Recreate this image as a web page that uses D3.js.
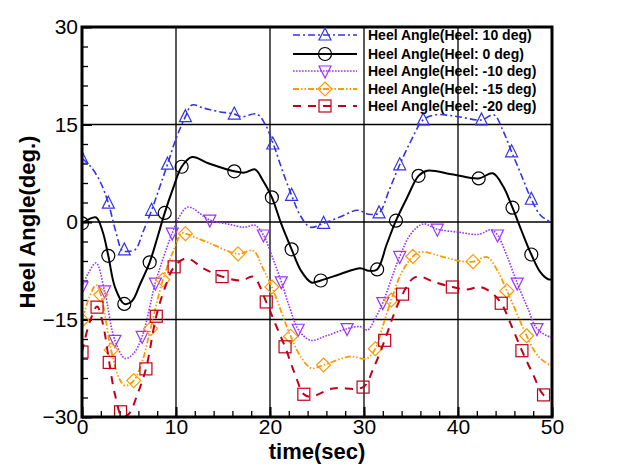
<!DOCTYPE html>
<html>
<head>
<meta charset="utf-8">
<script src="https://d3js.org/d3.v7.min.js"></script>
<style>
  html, body { margin: 0; padding: 0; background: #fff; }
  svg { display: block; }
</style>
</head>
<body>
<div id="chart"></div>
<script>
// ---- Data ----
const xTicks = [0, 10, 20, 30, 40, 50];
const yTicks = [-30, -15, 0, 15, 30];
const seriesNames = [
  "Heel Angle(Heel: 10 deg)",
  "Heel Angle(Heel: 0 deg)",
  "Heel Angle(Heel: -10 deg)",
  "Heel Angle(Heel: -15 deg)",
  "Heel Angle(Heel: -20 deg)"
];

// Heel 10 deg
const h10T = [0, 1, 2, 2.8, 3.6, 4.3, 5.0, 5.7, 6.5, 7.4, 8.3, 9.1, 10.0, 11.0, 11.7, 13, 14.5, 16.2, 17.0, 18.6, 19.5, 20.4, 21.3, 22.3, 23.3, 24.3, 25.7, 27.5, 29.3, 30.5, 31.6, 32.7, 33.8, 35, 36.3, 37.7, 40, 42.5, 43.8, 44.8, 45.7, 46.8, 47.8, 48.8, 50];
const h10V = [9.8, 8.4, 6.0, 2.9, -1.5, -4.4, -4.5, -4.2, -1.5, 1.8, 5.5, 8.9, 12.8, 16.2, 18.0, 17.5, 17.0, 16.6, 16.2, 16.6, 15.0, 11.8, 8.0, 4.1, 0.8, -0.8, -0.2, 0.8, 1.8, 1.2, 1.4, 5.0, 8.8, 12.5, 15.7, 16.5, 16.2, 15.7, 16.5, 14.0, 10.8, 7.0, 3.5, 1.0, -0.1];
const h10MarkT = [0, 2.8, 4.5, 7.4, 9.1, 11.0, 16.2, 20.3, 22.3, 25.7, 31.6, 33.8, 36.3, 42.5, 45.7, 47.8];
const h10MarkV = [9.8, 2.9, -4.3, 1.8, 8.9, 16.2, 16.6, 12.0, 4.1, -0.2, 1.4, 8.8, 15.7, 15.7, 10.8, 3.5];

// Heel 0 deg
const h0T = [0, 0.7, 1.5, 2.2, 2.8, 3.5, 4.5, 5.3, 6.2, 7.2, 8.0, 8.8, 9.7, 10.6, 11.7, 13.5, 16.2, 17.3, 18.4, 19.2, 20.2, 21.2, 22.3, 23.3, 24.4, 25.4, 27.5, 29.6, 30.5, 31.4, 32.4, 33.4, 34.6, 35.8, 36.7, 39.5, 42.2, 43.7, 44.8, 45.8, 46.8, 47.8, 48.8, 49.6, 50];
const h0V = [-0.2, 0.4, 0.7, -1.5, -5.2, -10.0, -12.6, -12.2, -9.5, -6.2, -2.5, 1.4, 5.2, 8.5, 10.0, 9.0, 7.8, 7.6, 8.1, 6.5, 3.8, -0.3, -4.2, -7.5, -9.3, -9.0, -8.0, -7.1, -7.5, -7.3, -3.5, 0.2, 3.8, 7.1, 7.9, 7.3, 6.7, 7.5, 5.5, 2.2, -1.5, -5.0, -7.8, -8.8, -8.8];
const h0MarkT = [0, 2.8, 4.5, 7.2, 8.8, 10.6, 16.2, 20.2, 22.3, 25.4, 31.4, 33.4, 35.8, 42.2, 45.8, 47.8];
const h0MarkV = [-0.2, -5.2, -12.6, -6.2, 1.4, 8.5, 7.8, 3.8, -4.2, -9.0, -7.3, 0.2, 7.1, 6.7, 2.2, -5.0];

// Heel -10 deg
const hm10T = [0, 0.7, 1.5, 2.4, 3.5, 4.6, 5.5, 6.4, 7.8, 8.7, 9.6, 10.4, 11.3, 13.6, 15.5, 17.3, 18.4, 19.3, 20.2, 21.2, 22.1, 23.0, 24.3, 26.0, 28.2, 29.6, 30.4, 31.2, 32.0, 33.8, 35.0, 36.3, 37.8, 40.2, 42.2, 43.5, 44.2, 45.2, 46.3, 47.4, 48.4, 49.8, 50];
const hm10V = [-10.0, -7.8, -6.3, -10.6, -18.2, -21.0, -20.2, -17.6, -9.4, -5.3, -1.7, 0.9, 2.3, 0.3, -0.3, -0.8, -0.5, -2.0, -5.2, -9.2, -13.2, -16.5, -18.2, -17.5, -16.4, -16.1, -16.6, -14.8, -12.4, -5.3, -1.8, -0.3, -1.1, -1.6, -1.9, -1.2, -2.0, -5.2, -9.4, -13.2, -16.4, -17.7, -17.7];
const hm10MarkT = [0, 2.4, 3.5, 6.4, 7.8, 9.6, 13.6, 19.3, 21.2, 23.0, 28.2, 32.0, 33.8, 37.8, 44.2, 46.3, 48.4];
const hm10MarkV = [-10.0, -10.6, -18.2, -17.6, -9.4, -1.7, 0.3, -2.0, -9.2, -16.5, -16.4, -12.4, -5.3, -1.1, -2.0, -9.4, -16.4];

// Heel -15 deg
const hm15T = [0, 0.8, 1.5, 2.0, 3.1, 4.0, 4.6, 5.5, 6.4, 7.3, 8.6, 9.7, 10.6, 11.0, 13.5, 16.6, 18.2, 19.2, 20.2, 21.2, 22.2, 23.3, 24.4, 25.7, 28.5, 30.3, 31.2, 32.0, 32.9, 34.0, 35.2, 36.0, 38.5, 40.2, 41.6, 43.1, 44.2, 45.2, 46.3, 47.3, 48.5, 49.8, 50];
const hm15V = [-15.1, -11.5, -9.7, -11.2, -19.7, -24.2, -25.2, -24.4, -21.5, -16.4, -8.9, -4.5, -1.7, -1.8, -3.2, -4.9, -4.4, -7.0, -10.0, -13.8, -17.6, -20.8, -22.5, -22.0, -20.7, -21.0, -19.5, -16.0, -12.0, -7.8, -5.3, -4.6, -5.4, -6.0, -6.1, -5.4, -7.5, -10.6, -14.2, -17.5, -20.6, -22.0, -22.0];
const hm15MarkT = [0, 2.0, 3.1, 5.5, 7.3, 8.6, 11.0, 16.6, 20.2, 22.2, 25.7, 31.2, 32.9, 35.2, 41.6, 45.2, 47.3];
const hm15MarkV = [-15.1, -11.2, -19.7, -24.4, -16.4, -8.9, -1.8, -4.9, -10.0, -17.6, -22.0, -19.5, -12.0, -5.3, -6.1, -10.6, -17.5];

// Heel -20 deg
const hm20T = [0, 0.8, 1.6, 2.2, 2.9, 3.5, 4.3, 5.0, 5.9, 6.8, 7.9, 8.8, 9.8, 11.1, 13.0, 14.9, 17.0, 18.2, 19.6, 20.6, 21.6, 22.6, 23.6, 24.3, 26.7, 29.9, 31.0, 32.2, 33.1, 34.1, 35.2, 36.0, 37.4, 39.4, 40.9, 42.3, 43.5, 44.6, 45.7, 46.8, 48.0, 49.1, 50];
const hm20V = [-20.0, -15.5, -13.0, -15.5, -21.6, -26.5, -30.0, -29.5, -26.5, -22.6, -14.5, -10.2, -6.9, -5.6, -7.2, -8.4, -9.0, -8.4, -12.3, -15.8, -19.2, -23.2, -26.5, -26.9, -25.6, -25.4, -22.5, -18.2, -14.5, -11.1, -8.7, -8.4, -9.2, -10.0, -10.4, -10.0, -10.8, -12.5, -16.0, -19.8, -23.5, -26.6, -27.0];
const hm20MarkT = [0, 1.6, 2.9, 4.1, 6.8, 7.9, 9.8, 14.9, 19.6, 21.6, 23.6, 29.9, 32.2, 34.1, 39.4, 44.6, 46.8, 49.1];
const hm20MarkV = [-20.0, -13.1, -21.6, -29.2, -22.6, -14.5, -6.9, -8.4, -12.3, -19.2, -26.5, -25.4, -18.2, -11.1, -10.0, -12.5, -19.8, -26.6];

// ---- Styles ----
const styles = [
  { color: "#3333e6", dash: "7,3,2,3", width: 1.6, marker: "triUp" },
  { color: "#000000", dash: null, width: 2, marker: "circle" },
  { color: "#9933ff", dash: "1.6,1.4", width: 1.6, marker: "triDown" },
  { color: "#ff9900", dash: "6,2,1.5,2,1.5,2", width: 1.8, marker: "diamond" },
  { color: "#c0001a", dash: "8,7", width: 2, marker: "square" }
];

const seriesData = [
  { t: h10T, v: h10V, mt: h10MarkT, mv: h10MarkV },
  { t: h0T, v: h0V, mt: h0MarkT, mv: h0MarkV },
  { t: hm10T, v: hm10V, mt: hm10MarkT, mv: hm10MarkV },
  { t: hm15T, v: hm15V, mt: hm15MarkT, mv: hm15MarkV },
  { t: hm20T, v: hm20V, mt: hm20MarkT, mv: hm20MarkV }
];

// ---- Layout ----
const W = 627, H = 475;
const margin = { left: 82, right: W - 552, top: 27, bottom: H - 417 };
const pw = W - margin.left - margin.right;
const ph = H - margin.top - margin.bottom;

const svg = d3.select("#chart").append("svg")
  .attr("width", W).attr("height", H)
  .style("font-family", "'Liberation Sans', Arial, sans-serif");

const g = svg.append("g").attr("transform", `translate(${margin.left},${margin.top})`);

const x = d3.scaleLinear().domain([0, 50]).range([0, pw]);
const y = d3.scaleLinear().domain([-30, 30]).range([ph, 0]);

svg.append("defs").append("clipPath").attr("id", "clip")
  .append("rect").attr("x", 0).attr("y", 0).attr("width", pw).attr("height", ph);

// grid lines
g.append("g").selectAll("line").data(xTicks.filter(d => d > 0 && d < 50)).join("line")
  .attr("x1", d => x(d)).attr("x2", d => x(d)).attr("y1", 0).attr("y2", ph)
  .attr("stroke", "#000").attr("stroke-width", 1.3);
g.append("g").selectAll("line").data(yTicks.filter(d => d > -30 && d < 30)).join("line")
  .attr("y1", d => y(d)).attr("y2", d => y(d)).attr("x1", 0).attr("x2", pw)
  .attr("stroke", "#000").attr("stroke-width", 1.3);

// axes with inward ticks
const xMinor = d3.range(0, 50.01, 2);
const yMinor = d3.range(-30, 30.01, 3);
const xAxisMinor = d3.axisBottom(x).tickValues(xMinor).tickSize(-6).tickFormat("");
const yAxisMinor = d3.axisLeft(y).tickValues(yMinor).tickSize(-6).tickFormat("");
const xAxis = d3.axisBottom(x).tickValues(xTicks).tickSize(-10).tickPadding(5).tickFormat(d3.format("d"));
const yAxis = d3.axisLeft(y).tickValues(yTicks).tickSize(-10).tickPadding(6).tickFormat(d3.format("d"));

function styleAxis(sel) {
  sel.select(".domain").remove();
  sel.selectAll(".tick line").attr("stroke", "#000").attr("stroke-width", 1.3);
  sel.selectAll("text").attr("fill", "#000").style("font-size", "21px");
}
g.append("g").attr("transform", `translate(0,${ph})`).call(xAxisMinor).call(styleAxis);
g.append("g").call(yAxisMinor).call(styleAxis);
const xa = g.append("g").attr("transform", `translate(0,${ph})`).call(xAxis).call(styleAxis);
xa.selectAll(".tick line").attr("stroke-width", 2);
xa.selectAll("text").attr("dy", "0.55em");
const ya = g.append("g").call(yAxis).call(styleAxis);
ya.selectAll(".tick line").attr("stroke-width", 2);
ya.selectAll("text").attr("dx", "2px");

// series lines
const lineGen = d3.line().x(d => x(d[0])).y(d => y(d[1])).curve(d3.curveCatmullRom.alpha(0.5));
const plot = g.append("g").attr("clip-path", "url(#clip)");

function drawMarker(sel, type, color, cx, cy) {
  const s = 6;
  let el;
  if (type === "circle") {
    el = sel.append("circle").attr("cx", cx).attr("cy", cy).attr("r", 6.5);
  } else if (type === "triUp") {
    el = sel.append("path").attr("d", `M${cx},${cy - s - 1}L${cx + s},${cy + s - 1}L${cx - s},${cy + s - 1}Z`);
  } else if (type === "triDown") {
    el = sel.append("path").attr("d", `M${cx},${cy + s + 1}L${cx + s},${cy - s + 1}L${cx - s},${cy - s + 1}Z`);
  } else if (type === "diamond") {
    el = sel.append("path").attr("d", `M${cx},${cy - s - 1}L${cx + s + 1},${cy}L${cx},${cy + s + 1}L${cx - s - 1},${cy}Z`);
  } else {
    el = sel.append("rect").attr("x", cx - s).attr("y", cy - s).attr("width", 2 * s).attr("height", 2 * s);
  }
  el.attr("fill", "none").attr("stroke", color).attr("stroke-width", 1.2);
}

seriesData.forEach((sd, i) => {
  const st = styles[i];
  const pts = sd.t.map((t, k) => [t, sd.v[k]]);
  plot.append("path").datum(pts).attr("d", lineGen)
    .attr("fill", "none").attr("stroke", st.color).attr("stroke-width", st.width)
    .attr("stroke-dasharray", st.dash);
  const mg = plot.append("g");
  sd.mt.forEach((t, k) => drawMarker(mg, st.marker, st.color, x(t), y(sd.mv[k])));
});

// frame
g.append("rect").attr("x", 0).attr("y", 0).attr("width", pw).attr("height", ph)
  .attr("fill", "none").attr("stroke", "#000").attr("stroke-width", 3);

// legend
const legend = svg.append("g");
const legRows = [35, 54, 71, 89, 106];
seriesNames.forEach((name, i) => {
  const st = styles[i];
  const ly = legRows[i];
  legend.append("line").attr("x1", 293).attr("x2", 357).attr("y1", ly).attr("y2", ly)
    .attr("stroke", st.color).attr("stroke-width", st.width).attr("stroke-dasharray", st.dash);
  drawMarker(legend, st.marker, st.color, 325, ly);
  legend.append("text").attr("x", 368).attr("y", ly).attr("dy", "0.35em")
    .style("font-size", "14px").style("font-weight", "bold").text(name);
});

// axis titles
svg.append("text").attr("x", (margin.left + 552) / 2).attr("y", 459)
  .attr("text-anchor", "middle").style("font-size", "22px").style("font-weight", "bold")
  .text("time(sec)");
svg.append("text").attr("transform", `translate(27,${margin.top + ph / 2}) rotate(-90)`)
  .attr("dy", "0.35em").attr("text-anchor", "middle")
  .style("font-size", "22px").style("font-weight", "bold")
  .text("Heel Angle(deg.)");
</script>
</body>
</html>
